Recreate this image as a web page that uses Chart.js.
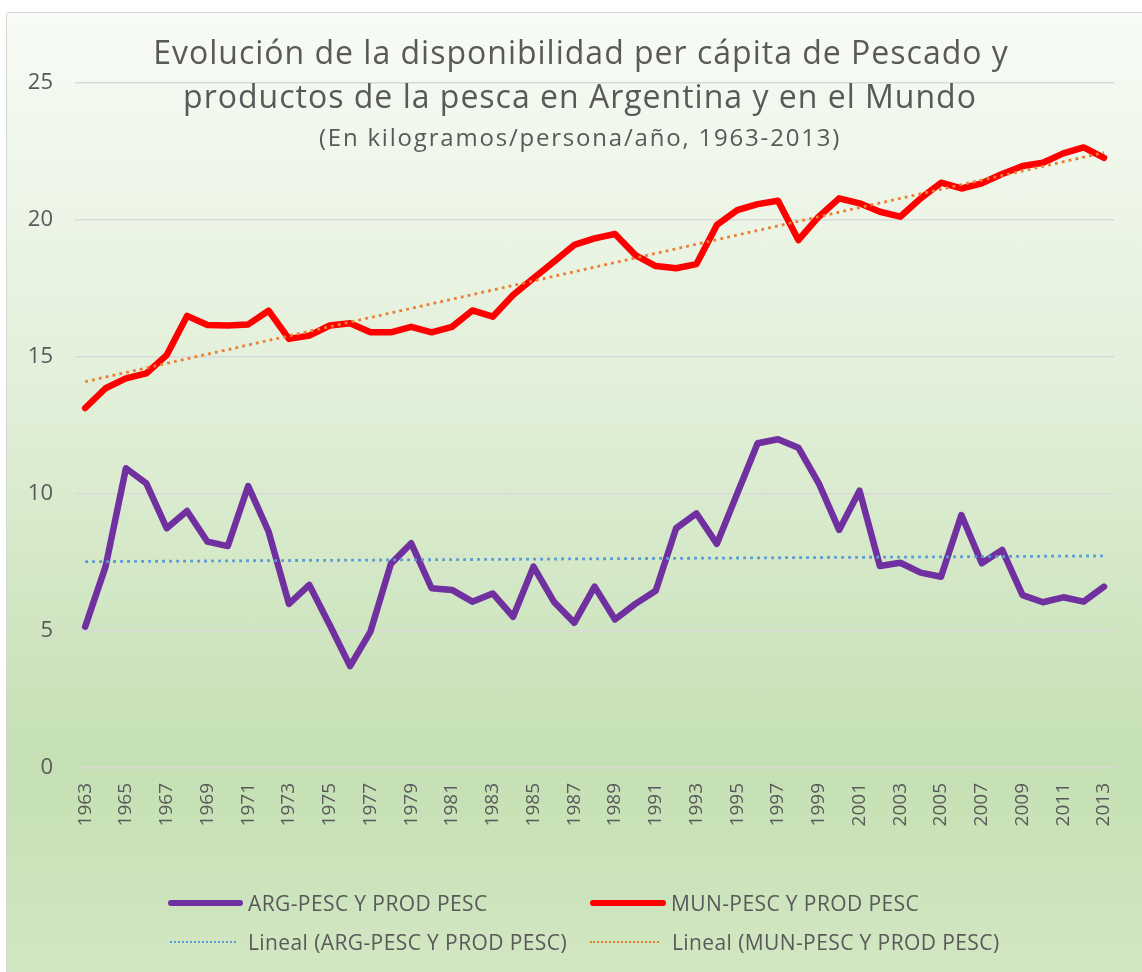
<!DOCTYPE html>
<html>
<head>
<meta charset="utf-8">
<script src="https://cdn.jsdelivr.net/npm/chart.js@4.4.0/dist/chart.umd.min.js"></script>
<style>
  body { margin: 0; background: #ffffff; }
  #card {
    position: absolute; left: 6px; top: 12px; width: 1140px; height: 962px;
    border: 1px solid #d4d6d2; border-radius: 3px;
    background: linear-gradient(to bottom, #f8fbf6 0%, #e1efd8 40%, #c5e0b4 78%, #d1e7c3 100%);
  }
  #chart { position: absolute; left: 0; top: 0; }
  .leg { position: absolute; font-family: "Open Sans", sans-serif; font-size: 21px; letter-spacing: 0.4px; color: #595959; white-space: nowrap; }
  .leg span.s { position: absolute; left: 0; top: 50%; }
</style>
</head>
<body>
<div id="card"></div>
<canvas id="chart" width="1142" height="972"></canvas>
<div id="legend"></div>
<script>
// years on the x axis
var years = ['1963','1964','1965','1966','1967','1968','1969','1970','1971','1972',
  '1973','1974','1975','1976','1977','1978','1979','1980','1981','1982',
  '1983','1984','1985','1986','1987','1988','1989','1990','1991','1992',
  '1993','1994','1995','1996','1997','1998','1999','2000','2001','2002',
  '2003','2004','2005','2006','2007','2008','2009','2010','2011','2012','2013'];

// Argentina, kg/persona/año
var argPesc = [5.16,7.35,10.94,10.39,8.75,9.38,8.26,8.10,10.29,8.63,
  5.99,6.68,5.22,3.72,4.98,7.45,8.20,6.56,6.50,6.07,
  6.37,5.52,7.35,6.07,5.30,6.62,5.42,5.99,6.47,8.75,
  9.29,8.18,10.02,11.85,12.00,11.69,10.39,8.69,10.12,7.37,
  7.49,7.13,6.98,9.23,7.47,7.96,6.31,6.05,6.23,6.07,6.62];

// Mundo, kg/persona/año
var munPesc = [13.14,13.86,14.22,14.40,15.07,16.50,16.17,16.15,16.19,16.69,
  15.66,15.78,16.15,16.23,15.90,15.90,16.10,15.90,16.10,16.70,
  16.47,17.26,17.87,18.48,19.09,19.33,19.49,18.72,18.32,18.24,
  18.39,19.82,20.36,20.58,20.70,19.27,20.12,20.79,20.61,20.30,
  20.12,20.79,21.36,21.15,21.34,21.68,21.97,22.09,22.43,22.65,22.27];

// trend lines, read at first and last year
var argTrend = [7.53, 7.74];
var munTrend = [14.10, 22.46];

var yTicks = [0, 5, 10, 15, 20, 25];

var titleLines = ['Evolución de la disponibilidad per cápita de Pescado y',
  'productos de la pesca en Argentina y en el Mundo'];
var subTitle = '(En kilogramos/persona/año, 1963-2013)';

var first = years[0], last = years[years.length - 1];

// title drawn over the plot area like in the original
const titlePlugin = {
  id: 'titleOverlay',
  afterDraw(chart) {
    const c = chart.ctx;
    c.save();
    c.fillStyle = '#595959';
    c.textAlign = 'center';
    c.textBaseline = 'alphabetic';
    c.font = '32px "Open Sans"';
    c.letterSpacing = '1px';
    c.fillText(titleLines[0], 581, 64);
    c.fillText(titleLines[1], 580, 108);
    c.font = '24px "Open Sans"';
    c.letterSpacing = '1.8px';
    c.fillText(subTitle, 580, 146);
    c.restore();
  }
};

const ctx = document.getElementById('chart').getContext('2d');
const chart = new Chart(ctx, {
  type: 'line',
  data: {
    labels: years,
    datasets: [{
      label: 'Lineal (ARG-PESC Y PROD PESC)',
      data: [{x: first, y: argTrend[0]}, {x: last, y: argTrend[1]}],
      borderColor: '#5b9bd5',
      borderWidth: 2.8,
      borderDash: [2.8, 4.2],
      pointRadius: 0,
      order: 0
    }, {
      label: 'Lineal (MUN-PESC Y PROD PESC)',
      data: [{x: first, y: munTrend[0]}, {x: last, y: munTrend[1]}],
      borderColor: '#ed7d31',
      borderWidth: 2.8,
      borderDash: [2.8, 4.2],
      pointRadius: 0,
      order: 0
    }, {
      label: 'ARG-PESC Y PROD PESC',
      data: argPesc,
      borderColor: '#7030a0',
      borderWidth: 6.5,
      borderJoinStyle: 'round',
      borderCapStyle: 'round',
      pointRadius: 0,
      tension: 0,
      order: 1
    }, {
      label: 'MUN-PESC Y PROD PESC',
      data: munPesc,
      borderColor: '#ff0000',
      borderWidth: 6.5,
      borderJoinStyle: 'round',
      borderCapStyle: 'round',
      pointRadius: 0,
      tension: 0,
      order: 1
    }]
  },
  options: {
    responsive: false,
    animation: false,
    layout: { padding: { top: 83, right: 17, bottom: 124, left: 0 } },
    plugins: { legend: { display: false }, title: { display: false }, tooltip: { enabled: false } },
    scales: {
      x: {
        offset: true,
        grid: { display: false, drawTicks: false },
        border: { display: false },
        ticks: {
          autoSkip: false, maxRotation: 90, minRotation: 90, padding: 15,
          color: '#595959', font: { family: 'Open Sans', size: 19 },
          callback: function (v, i) { return i % 2 === 0 ? this.getLabelForValue(v) : ''; }
        },
        afterFit(s) { s.height = 80; }
      },
      y: {
        min: 0, max: 25,
        afterBuildTicks(s) { s.ticks = yTicks.map(v => ({ value: v })); },
        grid: { color: '#d9d9d9', lineWidth: 1.6, drawTicks: false },
        border: { display: false },
        ticks: { padding: 22, color: '#595959', font: { family: 'Open Sans', size: 22 } },
        afterFit(s) { s.width = 75; }
      }
    }
  },
  plugins: [titlePlugin]
});

// legend in two columns, built from the datasets
var legendPos = [
  { ds: 2, x: 168, y: 903, w: 75, tx: 248 },
  { ds: 3, x: 590, y: 903, w: 76, tx: 671 },
  { ds: 0, x: 170, y: 942, w: 66, tx: 248 },
  { ds: 1, x: 590, y: 942, w: 69, tx: 672 }
];
var legendBox = document.getElementById('legend');
legendPos.forEach(function (p) {
  var d = chart.data.datasets[p.ds];
  var item = document.createElement('div');
  item.className = 'leg';
  item.style.left = p.x + 'px';
  item.style.top = (p.y - 15) + 'px';
  item.style.height = '30px';
  item.style.lineHeight = '30px';
  item.style.paddingLeft = (p.tx - p.x) + 'px';
  var s = document.createElement('span');
  s.className = 's';
  s.style.width = p.w + 'px';
  if (d.borderDash) {
    s.style.borderTop = '2.8px dotted ' + d.borderColor;
    s.style.marginTop = '-1px';
  } else {
    s.style.height = '6px';
    s.style.marginTop = '-3px';
    s.style.borderRadius = '3px';
    s.style.background = d.borderColor;
  }
  item.appendChild(s);
  item.appendChild(document.createTextNode(d.label));
  legendBox.appendChild(item);
});
</script>
</body>
</html>
